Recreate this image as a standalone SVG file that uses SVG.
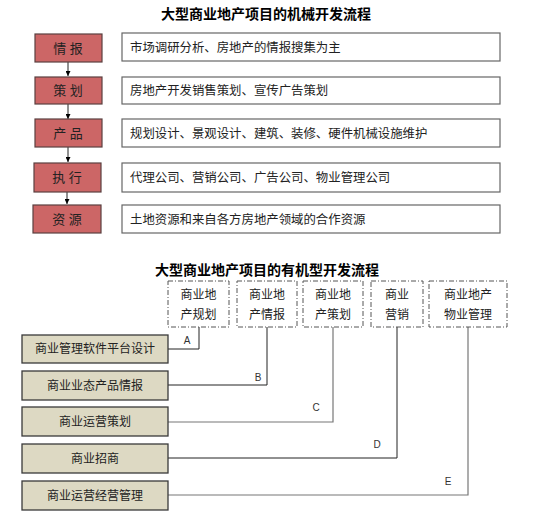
<svg xmlns="http://www.w3.org/2000/svg" width="536" height="518" viewBox="0 0 536 518">
<defs>
<style>
text{font-family:"Liberation Sans","Noto Sans CJK SC",sans-serif;fill:#222}
.title{font-size:14px;font-weight:bold;text-anchor:middle;fill:#000}
.red{fill:#cc6666;stroke:#5a4040;stroke-width:1.2}
.desc{fill:#fff;stroke:#666;stroke-width:1.2}
.tan{fill:#ddd9c3;stroke:#3a3a3a;stroke-width:1.3}
.dash{fill:#fff;stroke:#555;stroke-width:1;stroke-dasharray:5 2 1 2}
.t12{font-size:12px}
.t125{font-size:12.4px}
.c{text-anchor:middle}
.rt{font-size:13px;text-anchor:middle;fill:#222}
.lbl{font-size:10px;fill:#333;text-anchor:middle}
.ln{fill:none;stroke:#222;stroke-width:1}
.lg{fill:none;stroke:#777;stroke-width:1.2}
</style>
<marker id="ah" viewBox="0 0 10 10" refX="10" refY="5" markerWidth="5" markerHeight="5" orient="auto"><path d="M0,0L10,5L0,10z" fill="#000"/></marker>
</defs>
<rect width="536" height="518" fill="#fff"/>
<text class="title" x="266" y="19">大型商业地产项目的机械开发流程</text>
<g id="connectors">
<line class="ln" x1="68" y1="62" x2="68" y2="76" marker-end="url(#ah)"/>
<line class="ln" x1="68" y1="104" x2="68" y2="119" marker-end="url(#ah)"/>
<line class="ln" x1="68" y1="147" x2="68" y2="162" marker-end="url(#ah)"/>
<line class="ln" x1="67" y1="192" x2="67" y2="204" marker-end="url(#ah)"/>
<path class="ln" d="M168,349H199V327"/>
<path class="ln" d="M168,385H267V327"/>
<path class="lg" d="M168,422H333V327"/>
<path class="ln" d="M168,458H397V327"/>
<path class="lg" d="M168,495H468V327"/>
<text class="lbl" x="187" y="344">A</text>
<text class="lbl" x="258" y="381">B</text>
<text class="lbl" x="316" y="411">C</text>
<text class="lbl" x="377" y="448">D</text>
<text class="lbl" x="448" y="485">E</text>
</g>
<g id="n1"><rect class="red" x="35" y="34" width="67" height="28"/><text class="rt" x="68" y="53">情 报</text></g>
<g id="d1"><rect class="desc" x="122" y="33" width="378" height="28"/><text class="t125" x="130" y="52">市场调研分析、房地产的情报搜集为主</text></g>
<g id="n2"><rect class="red" x="35" y="77" width="67" height="27"/><text class="rt" x="68" y="95">策 划</text></g>
<g id="d2"><rect class="desc" x="122" y="77" width="378" height="27"/><text class="t125" x="130" y="95">房地产开发销售策划、宣传广告策划</text></g>
<g id="n3"><rect class="red" x="35" y="119" width="67" height="28"/><text class="rt" x="68" y="138">产 品</text></g>
<g id="d3"><rect class="desc" x="122" y="119" width="378" height="28"/><text class="t125" x="130" y="138">规划设计、景观设计、建筑、装修、硬件机械设施维护</text></g>
<g id="n4"><rect class="red" x="34" y="163" width="67" height="29"/><text class="rt" x="67" y="182">执 行</text></g>
<g id="d4"><rect class="desc" x="122" y="163" width="378" height="29"/><text class="t125" x="130" y="182">代理公司、营销公司、广告公司、物业管理公司</text></g>
<g id="n5"><rect class="red" x="33" y="205" width="68" height="28"/><text class="rt" x="67" y="224">资 源</text></g>
<g id="d5"><rect class="desc" x="122" y="205" width="378" height="28"/><text class="t125" x="130" y="224">土地资源和来自各方房地产领域的合作资源</text></g>
<text class="title" x="267" y="275">大型商业地产项目的有机型开发流程</text>
<g id="o1"><rect class="dash" x="168" y="281" width="61" height="46"/><text class="t12 c" x="198.5" y="299">商业地</text><text class="t12 c" x="198.5" y="319">产规划</text></g>
<g id="o2"><rect class="dash" x="237" y="281" width="60" height="46"/><text class="t12 c" x="267" y="299">商业地</text><text class="t12 c" x="267" y="319">产情报</text></g>
<g id="o3"><rect class="dash" x="303" y="281" width="60" height="46"/><text class="t12 c" x="333" y="299">商业地</text><text class="t12 c" x="333" y="319">产策划</text></g>
<g id="o4"><rect class="dash" x="371" y="281" width="52" height="46"/><text class="t12 c" x="397" y="299">商业</text><text class="t12 c" x="397" y="319">营销</text></g>
<g id="o5"><rect class="dash" x="429" y="281" width="78" height="46"/><text class="t12 c" x="468" y="299">商业地产</text><text class="t12 c" x="468" y="319">物业管理</text></g>
<g id="l1"><rect class="tan" x="22" y="335" width="146" height="28"/><text class="t12 c" x="95" y="353">商业管理软件平台设计</text></g>
<g id="l2"><rect class="tan" x="22" y="371" width="146" height="29"/><text class="t12 c" x="95" y="390">商业业态产品情报</text></g>
<g id="l3"><rect class="tan" x="22" y="407" width="146" height="29"/><text class="t12 c" x="95" y="426">商业运营策划</text></g>
<g id="l4"><rect class="tan" x="22" y="444" width="146" height="29"/><text class="t12 c" x="95" y="463">商业招商</text></g>
<g id="l5"><rect class="tan" x="22" y="481" width="146" height="29"/><text class="t12 c" x="95" y="500">商业运营经营管理</text></g>
</svg>
